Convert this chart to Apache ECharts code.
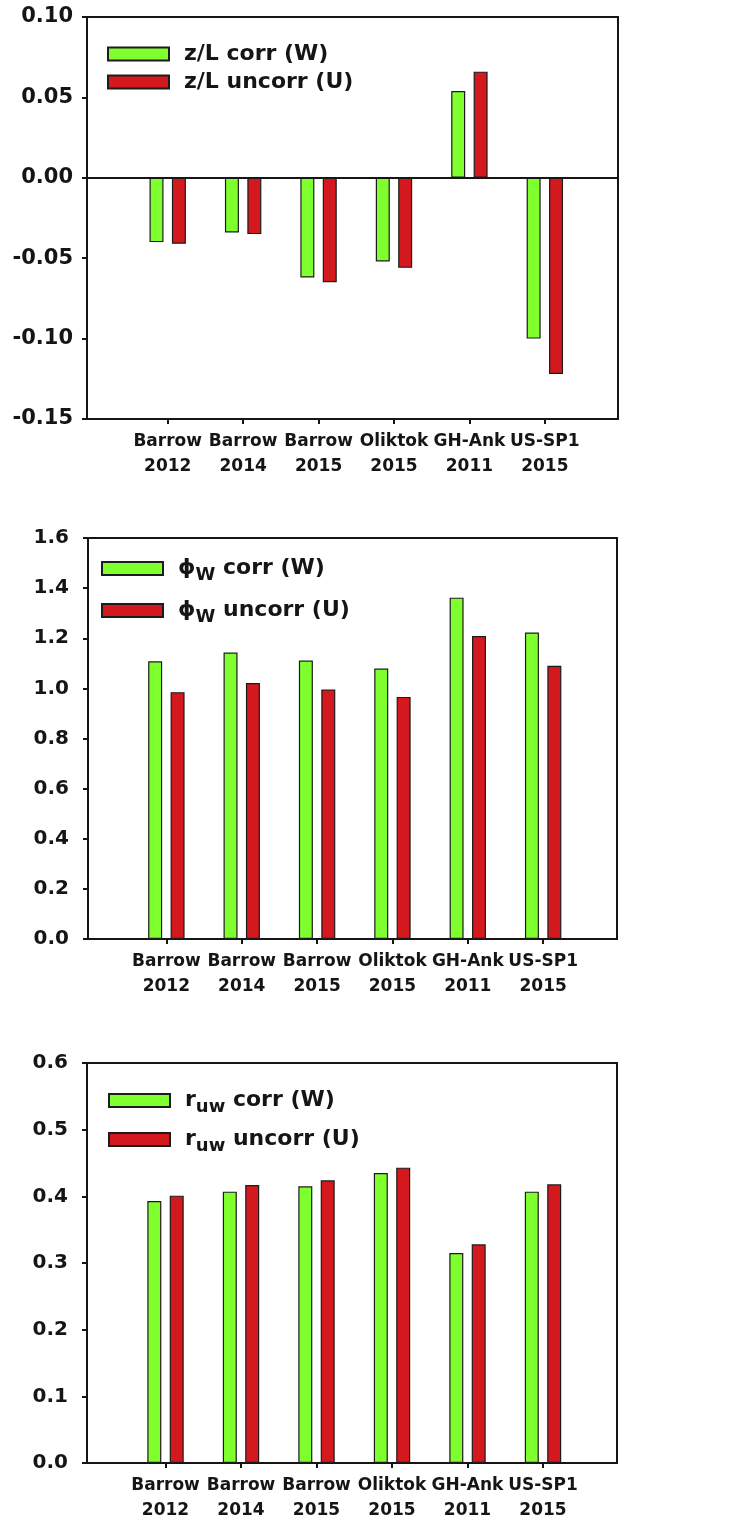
<!DOCTYPE html>
<html>
<head>
<meta charset="utf-8">
<style>
  html, body { margin: 0; padding: 0; background: #ffffff; }
  #chart { width: 735px; height: 1531px; }
</style>
<script src="https://cdn.jsdelivr.net/npm/echarts@6/dist/echarts.min.js"></script>
</head>
<body>
<div id="chart"></div>
<script>
// Sites and campaign years along the x axis
const sites = ['Barrow', 'Barrow', 'Barrow', 'Oliktok', 'GH-Ank', 'US-SP1'];
const years = ['2012', '2014', '2015', '2015', '2011', '2015'];
const positions = [1, 2, 3, 4, 5, 6];

// Stability parameter z/L
const zlCorr   = [-0.040, -0.034, -0.062, -0.052, 0.054, -0.100];
const zlUncorr = [-0.041, -0.035, -0.065, -0.056, 0.066, -0.122];

// Normalized vertical velocity std phi_w
const phiCorr   = [1.108, 1.143, 1.111, 1.079, 1.362, 1.223];
const phiUncorr = [0.985, 1.021, 0.996, 0.966, 1.209, 1.090];

// Correlation coefficient r_uw
const ruwCorr   = [0.393, 0.407, 0.415, 0.435, 0.315, 0.407];
const ruwUncorr = [0.401, 0.417, 0.424, 0.443, 0.328, 0.418];

const FONT = 'DejaVu Sans';
const INK = '#151515';
const GREEN = '#80ff2e';
const RED = '#d3191e';

const legendRich = {
  t:  { fontFamily: FONT, fontWeight: 'bold', fontSize: 22, color: INK, lineHeight: 25 },
  s:  { fontFamily: FONT, fontWeight: 'bold', fontSize: 18, color: INK, lineHeight: 18, padding: [13, 0, 0, 0] }
};

const legendText = {
  'z/L corr (W)':   '{t|z/L corr (W)}',
  'z/L uncorr (U)': '{t|z/L uncorr (U)}',
  'ϕW corr (W)':    '{t|ϕ}{s|W}{t| corr (W)}',
  'ϕW uncorr (U)':  '{t|ϕ}{s|W}{t| uncorr (U)}',
  'ruw corr (W)':   '{t|r}{s|uw}{t| corr (W)}',
  'ruw uncorr (U)': '{t|r}{s|uw}{t| uncorr (U)}'
};

function pairs(vals) { return vals.map((v, i) => [positions[i], v]); }

function xAxisFor(idx, min, max) {
  return {
    type: 'value', gridIndex: idx, min: min, max: max,
    axisLine: { show: true, onZero: false, lineStyle: { color: INK, width: 2 } },
    axisTick: { show: true, customValues: positions, length: 5, lineStyle: { color: INK, width: 2 } },
    axisLabel: {
      customValues: positions, margin: 10,
      fontFamily: FONT, fontWeight: 'bold', fontSize: 17, color: INK, lineHeight: 25,
      formatter: v => sites[v - 1] + '\n' + years[v - 1]
    },
    splitLine: { show: false }
  };
}

function yAxisFor(idx, min, max, interval, digits, size, margin) {
  return {
    type: 'value', gridIndex: idx, min: min, max: max, interval: interval,
    axisLine: { show: true, onZero: false, lineStyle: { color: INK, width: 2 } },
    axisTick: { show: true, length: 5, lineStyle: { color: INK, width: 2 } },
    axisLabel: {
      margin: margin, fontFamily: FONT, fontWeight: 'bold', fontSize: size, color: INK,
      formatter: v => Number(v).toFixed(digits)
    },
    splitLine: { show: false }
  };
}

function barSeries(name, idx, vals, color, extra) {
  return Object.assign({
    name: name, type: 'bar', xAxisIndex: idx, yAxisIndex: idx,
    data: pairs(vals), barWidth: 14, barGap: '60%',
    itemStyle: { color: color, borderColor: '#1c1c1c', borderWidth: 1.2 },
    animation: false
  }, extra || {});
}

function legendFor(names, left, top, gap) {
  return {
    data: names, orient: 'vertical', left: left, top: top, padding: 0,
    itemWidth: 61, itemHeight: 13, itemGap: gap, icon: 'rect',
    selectedMode: false,
    formatter: n => legendText[n],
    textStyle: { padding: [0, 0, 0, 10], rich: legendRich }
  };
}

const chart = echarts.init(document.getElementById('chart'), null, { renderer: 'canvas' });

chart.setOption({
  backgroundColor: '#ffffff',
  animation: false,
  grid: [
    { left: 87, top: 17, width: 531, height: 402, show: true, borderColor: INK, borderWidth: 2 },
    { left: 88, top: 538, width: 529, height: 401, show: true, borderColor: INK, borderWidth: 2 },
    { left: 87, top: 1063, width: 530, height: 400, show: true, borderColor: INK, borderWidth: 2 }
  ],
  xAxis: [
    xAxisFor(0, -0.07, 6.97),
    xAxisFor(1, -0.04, 6.98),
    xAxisFor(2, -0.04, 6.98)
  ],
  yAxis: [
    yAxisFor(0, -0.15, 0.10, 0.05, 2, 21, 14),
    yAxisFor(1, 0, 1.6, 0.2, 1, 20, 19),
    yAxisFor(2, 0, 0.6, 0.1, 1, 20, 19)
  ],
  legend: [
    legendFor(['z/L corr (W)', 'z/L uncorr (U)'], 107, 43, 6),
    legendFor(['ϕW corr (W)', 'ϕW uncorr (U)'], 101, 553, 11),
    legendFor(['ruw corr (W)', 'ruw uncorr (U)'], 108, 1085, 8)
  ],
  series: [
    barSeries('z/L corr (W)', 0, zlCorr, GREEN, {
      markLine: {
        silent: true, symbol: ['none', 'none'], label: { show: false },
        lineStyle: { color: INK, width: 2, type: 'solid' },
        data: [{ yAxis: 0 }], animation: false
      }
    }),
    barSeries('z/L uncorr (U)', 0, zlUncorr, RED),
    barSeries('ϕW corr (W)', 1, phiCorr, GREEN),
    barSeries('ϕW uncorr (U)', 1, phiUncorr, RED),
    barSeries('ruw corr (W)', 2, ruwCorr, GREEN),
    barSeries('ruw uncorr (U)', 2, ruwUncorr, RED)
  ]
});
</script>
</body>
</html>
